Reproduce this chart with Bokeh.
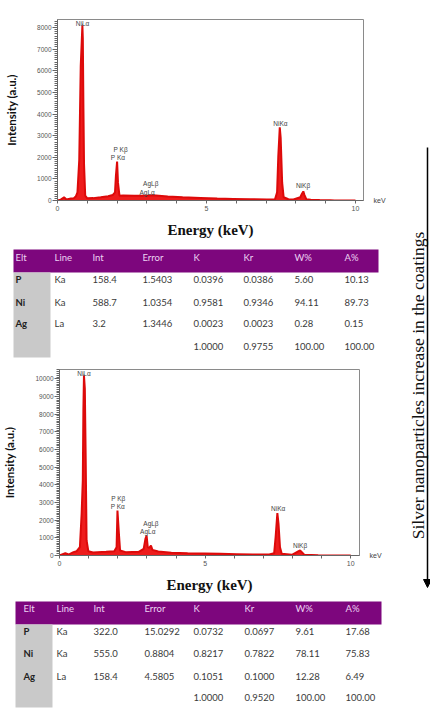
import math
from bokeh.plotting import figure
from bokeh.layouts import column, row
from bokeh.models import (Range1d, SingleIntervalTicker, FixedTicker, Label, Arrow,
                          NormalHead, LinearAxis)
from bokeh.core.properties import value
from bokeh.embed import file_html
from bokeh.resources import INLINE

# ---------------- data ----------------
energy1 = [0.0, 0.1, 0.22, 0.3, 0.45, 0.55, 0.62, 0.67, 0.73, 0.78, 0.815, 0.835, 0.85, 0.87, 0.89,
           0.93, 1.0, 1.2, 1.45, 1.7, 1.85, 1.93, 1.96, 2.0, 2.03, 2.08, 2.2, 2.57, 3.0, 3.2,
           3.7, 4.2, 4.8, 5.36, 5.9, 6.47, 7.03, 7.3, 7.37, 7.41, 7.46, 7.49, 7.54, 7.59, 7.75,
           7.92, 8.15, 8.2, 8.25, 8.29, 8.35, 8.5, 8.8, 9.15, 9.3, 10.0]
counts1 = [0, 30, 150, 50, 90, 110, 200, 375, 1880, 6230, 7400, 8100, 7500, 4280, 1700,
           225, 100, 110, 150, 200, 250, 375, 1125, 1800, 825, 225, 230, 225, 220, 240,
           180, 150, 120, 90, 75, 60, 45, 60, 375, 2030, 3380, 2900, 825, 150, 60,
           45, 150, 300, 420, 250, 60, 40, 25, 15, 0, 0]

energy2 = [0.0, 0.2, 0.31, 0.48, 0.59, 0.7, 0.76, 0.8, 0.82, 0.84, 0.87, 0.9, 0.93, 0.99, 1.15,
           1.6, 1.88, 1.96, 1.99, 2.04, 2.08, 2.27, 2.72, 2.89, 2.95, 2.99, 3.03, 3.08, 3.14, 3.19,
           3.39, 3.84, 4.4, 4.96, 5.52, 6.08, 6.64, 7.2, 7.37, 7.42, 7.48, 7.52, 7.57, 7.63, 7.98,
           8.21, 8.26, 8.32, 8.41, 8.88, 9.44, 10.0]
counts2 = [0, 130, 55, 190, 245, 470, 2360, 4250, 8200, 10190, 9430, 5380, 850, 245, 170,
           207, 245, 470, 2550, 1230, 280, 190, 207, 377, 943, 1130, 470, 430, 566, 320,
           226, 150, 130, 113, 94, 75, 57, 57, 130, 1040, 2400, 1790, 470, 94, 38,
           245, 283, 190, 38, 19, 0, 0]

peak_labels = ["NiLα", "P Kβ", "P Kα", "AgLβ", "AgLα", "NiKα", "NiKβ"]
peak_lx1 = [0.84, 2.12, 2.03, 3.13, 3.01, 7.48, 8.24]
peak_ly1 = [8180, 2360, 1980, 780, 375, 3560, 675]
peak_lx2 = [0.84, 2.02, 2.0, 3.14, 3.03, 7.51, 8.26]
peak_ly2 = [10280, 3245, 2770, 1830, 1340, 2640, 566]

x_ticks = [0, 1, 2, 3, 4, 5, 6, 7, 8, 9, 10]
x_tick_labels = {0: "0", 5: "5", 10: "10"}
x_unit = "keV"

table_cols = ["Elt", "Line", "Int", "Error", "K", "Kr", "W%", "A%"]
t1_elt = ["P", "Ni", "Ag", ""]
t1_line = ["Ka", "Ka", "La", ""]
t1_int = ["158.4", "588.7", "3.2", ""]
t1_err = ["1.5403", "1.0354", "1.3446", ""]
t1_k = ["0.0396", "0.9581", "0.0023", "1.0000"]
t1_kr = ["0.0386", "0.9346", "0.0023", "0.9755"]
t1_w = ["5.60", "94.11", "0.28", "100.00"]
t1_a = ["10.13", "89.73", "0.15", "100.00"]

t2_elt = ["P", "Ni", "Ag", ""]
t2_line = ["Ka", "Ka", "La", ""]
t2_int = ["322.0", "555.0", "158.4", ""]
t2_err = ["15.0292", "0.8804", "4.5805", ""]
t2_k = ["0.0732", "0.8217", "0.1051", "1.0000"]
t2_kr = ["0.0697", "0.7822", "0.1000", "0.9520"]
t2_w = ["9.61", "78.11", "12.28", "100.00"]
t2_a = ["17.68", "75.83", "6.49", "100.00"]

side_text = "Silver nanoparticles increase in the coatings"

# ---------------- styles ----------------
RED = "#ee1c1c"
RED_EDGE = "#dd0a0a"
PURPLE = "#7d067d"
HEAD_TXT = "#ecd2f2"
GRAY = "#c9c9c9"
CELL_TXT = "#3a3a3a"
LEFT_W = 405


def spec_fig(height, x_end, y_end, borders, E, C, lx, ly):
    bl, br, bt, bb = borders
    p = figure(width=LEFT_W, height=height, x_range=Range1d(0, x_end), y_range=Range1d(0, y_end),
               toolbar_location=None, output_backend="svg",
               min_border_left=bl, min_border_right=br, min_border_top=bt, min_border_bottom=bb)
    p.grid.visible = False
    p.outline_line_color = "#8a8a8a"
    p.background_fill_color = "white"
    p.border_fill_color = "white"
    # marker line of the NiLα peak
    p.line(x=[lx[0], lx[0]], y=[0, ly[0]], line_color="#9a9a9a", line_width=1)
    p.varea(x=E, y1=[0] * len(E), y2=C, fill_color=RED)
    p.line(x=E, y=C, line_color=RED_EDGE, line_width=2)
    p.text(x=lx, y=ly, text=peak_labels, text_font=value("Liberation Sans"),
           text_font_size="6.5px", text_color="#444444", text_align="center",
           text_baseline="middle")
    # axes
    xa = p.xaxis[0]
    xa.ticker = FixedTicker(ticks=x_ticks)
    xa.major_label_overrides = {t: x_tick_labels.get(t, "") for t in x_ticks}
    xa.major_tick_out = 3
    xa.major_tick_in = 0
    xa.minor_tick_out = 0
    xa.axis_line_color = "#666666"
    xa.major_tick_line_color = "#666666"
    xa.major_label_text_font = "Liberation Sans"
    xa.major_label_text_font_size = "7px"
    xa.major_label_text_color = "#555555"
    xa.major_label_standoff = 2
    xa.axis_label = "Energy (keV)"
    xa.axis_label_text_font = "Liberation Serif"
    xa.axis_label_text_font_style = "bold"
    xa.axis_label_text_font_size = "15px"
    xa.axis_label_text_color = "#111111"
    xa.axis_label_standoff = 8

    ya = p.yaxis[0]
    ya.ticker = SingleIntervalTicker(interval=1000, num_minor_ticks=10)
    ya.major_tick_out = 5
    ya.major_tick_in = 0
    ya.minor_tick_out = 3
    ya.minor_tick_in = 0
    ya.axis_line_color = "#666666"
    ya.major_tick_line_color = "#666666"
    ya.minor_tick_line_color = "#666666"
    ya.major_label_text_font = "Liberation Sans"
    ya.major_label_text_font_size = "6.5px"
    ya.major_label_text_color = "#555555"
    ya.major_label_standoff = 1
    ya.axis_label = "Intensity (a.u.)"
    ya.axis_label_text_font = "Lato"
    ya.axis_label_text_font_style = "bold"
    ya.axis_label_text_font_size = "11.5px"
    ya.axis_label_text_color = "#111111"
    ya.axis_label_standoff = 16

    # "keV" unit text at the right end of the energy axis
    kev = LinearAxis(ticker=FixedTicker(ticks=[0]), major_label_overrides={0: x_unit},
                     axis_line_color=None, major_tick_line_color=None,
                     minor_tick_line_color=None, major_label_standoff=4,
                     major_label_text_font="Liberation Sans",
                     major_label_text_font_size="7px", major_label_text_color="#444444",
                     major_label_orientation="horizontal")
    p.add_layout(kev, "right")
    return p


def table_fig(height, head_top, head_bot, left, right, gray_right, gray_bot,
              col_x, head_y, row_y, data):
    p = figure(width=LEFT_W, height=height, x_range=Range1d(0, LEFT_W),
               y_range=Range1d(height, 0), toolbar_location=None, output_backend="svg",
               x_axis_location=None, y_axis_location=None,
               min_border=0, min_border_left=0, min_border_right=0,
               min_border_top=0, min_border_bottom=0)
    p.grid.visible = False
    p.outline_line_color = None
    p.quad(left=[left], right=[right], top=[head_top], bottom=[head_bot],
           fill_color=PURPLE, line_color=None)
    p.quad(left=[left], right=[gray_right], top=[head_bot], bottom=[gray_bot],
           fill_color=GRAY, line_color=None)
    p.text(x=col_x, y=[head_y] * len(col_x), text=table_cols, text_font=value("Lato"),
           text_font_size="9.5px", text_color=HEAD_TXT, text_baseline="middle")
    for i, colvals in enumerate(data):
        p.text(x=[col_x[i]] * len(colvals), y=row_y, text=colvals, text_font=value("Lato"),
               text_font_size="9.5px", text_color="#222222" if i == 0 else CELL_TXT,
               text_font_style="bold" if i == 0 else "normal", text_baseline="middle")
    return p


s1 = spec_fig(240, 10.27, 8370, (57, 42, 19, 35), energy1, counts1, peak_lx1, peak_ly1)
t1 = table_fig(120, 9, 32, 13, 378, 50, 117,
               [15, 54, 92, 142, 193, 243, 294, 344], 17, [39, 62, 83, 106],
               [t1_elt, t1_line, t1_int, t1_err, t1_k, t1_kr, t1_w, t1_a])
s2 = spec_fig(235, 10.3, 10527, (52, 46, 9, 40), energy2, counts2, peak_lx2, peak_ly2)
t2 = table_fig(113, 6, 29, 15, 381, 52, 112,
               [23, 56, 93, 144, 193, 244, 295, 345], 13, [36, 58, 81, 102],
               [t2_elt, t2_line, t2_int, t2_err, t2_k, t2_kr, t2_w, t2_a])

side = figure(width=25, height=708, x_range=Range1d(0, 25), y_range=Range1d(708, 0),
              toolbar_location=None, output_backend="svg",
              x_axis_location=None, y_axis_location=None, min_border=0)
side.grid.visible = False
side.outline_line_color = None
side.add_layout(Label(x=12, y=385, text=side_text, angle=90, angle_units="deg",
                      text_font="Liberation Serif", text_font_size="17.5px",
                      text_color="#111111", text_align="center", text_baseline="middle"))
side.add_layout(Arrow(end=NormalHead(size=8, fill_color="black", line_color="black"),
                      x_start=22, y_start=147, x_end=22, y_end=587,
                      line_width=1.5, line_color="black"))

left_col = column(column(s1), column(t1), column(s2), column(t2), spacing=0)
layout = row(left_col, side, spacing=0)
open("out.html", "w").write(file_html(layout, INLINE))
